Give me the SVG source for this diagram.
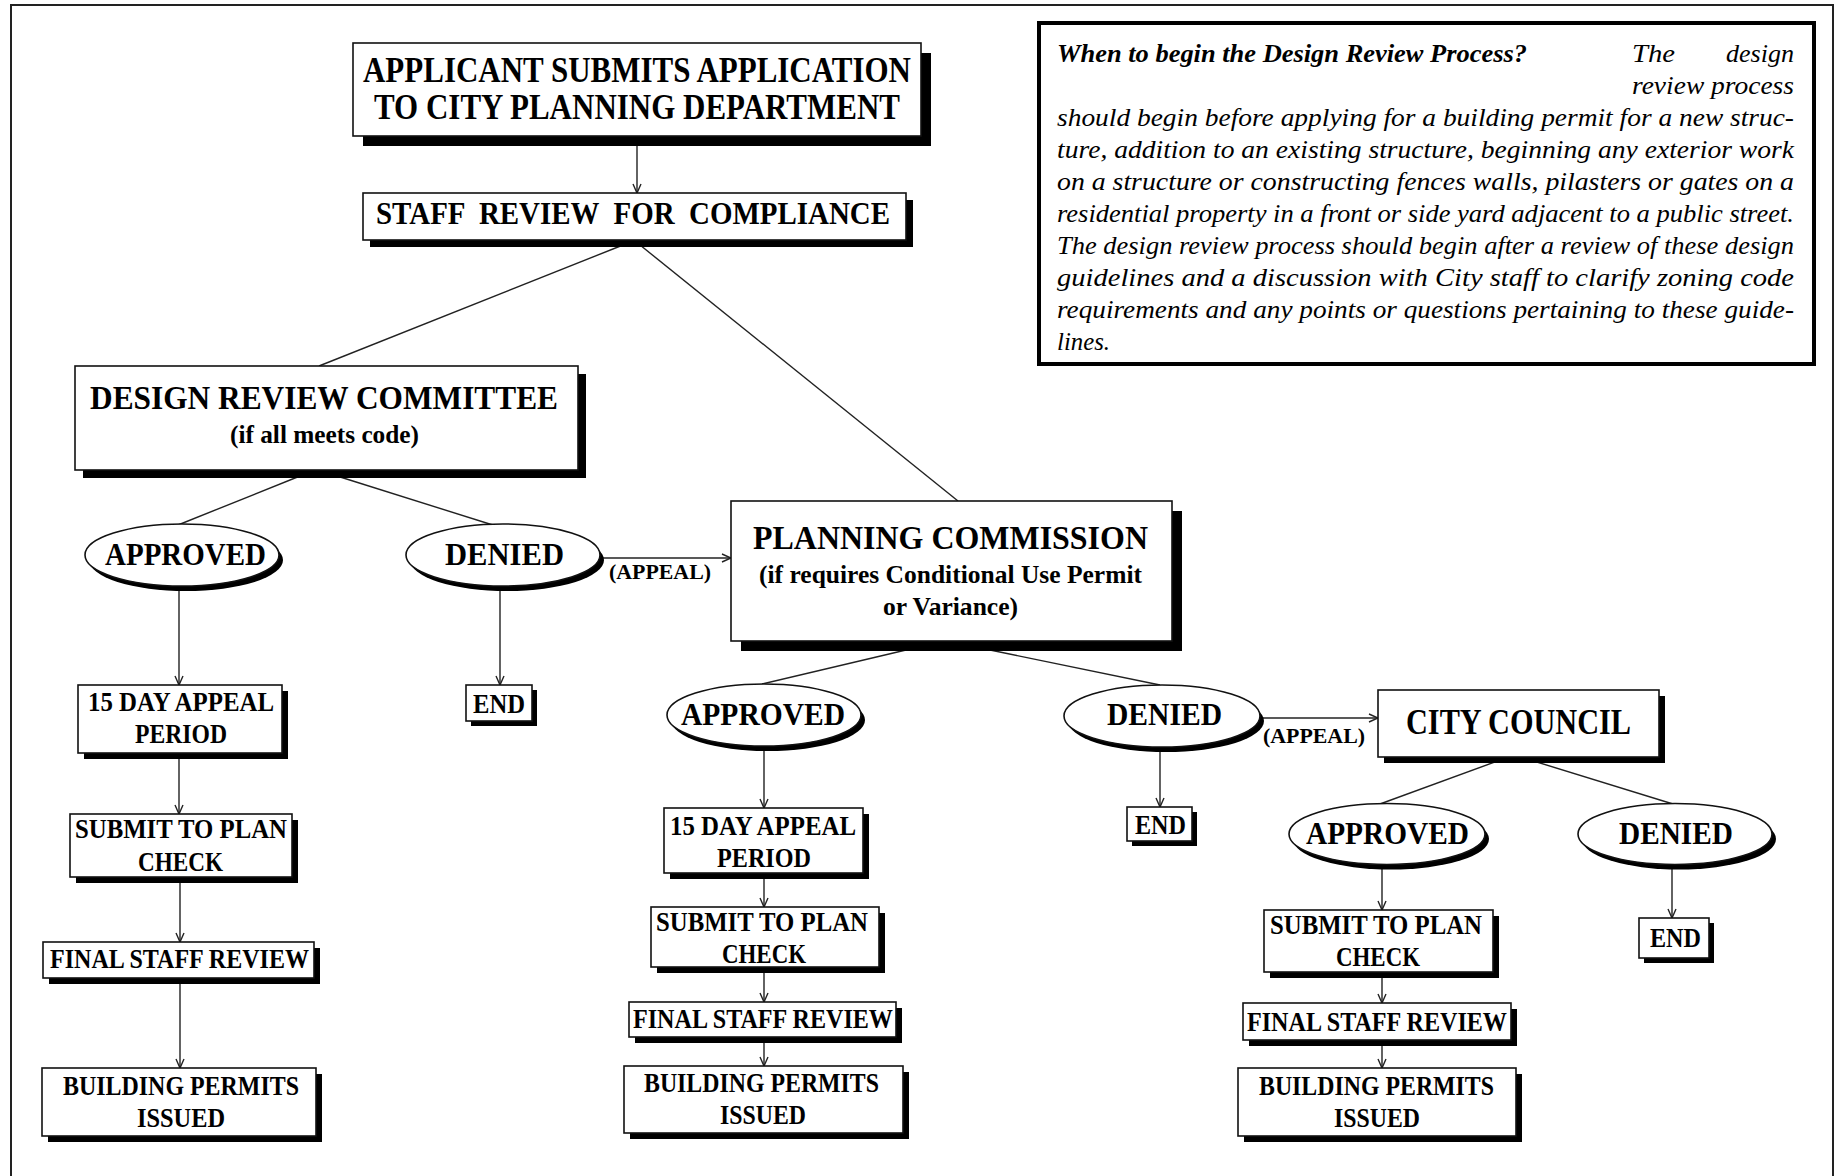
<svg xmlns="http://www.w3.org/2000/svg" width="1837" height="1176" viewBox="0 0 1837 1176">
<style>
.box{fill:#fff;stroke:#111;stroke-width:1.6}
.sh{fill:#000}
text{font-family:'Liberation Serif',Tinos,'Times New Roman',Times,serif}
.t{font-weight:bold;fill:#000}
.s{font-size:28px}
.it{font-style:italic;fill:#000;font-size:25px}
.ln{stroke:#222;stroke-width:1.4;fill:none}
.ar{stroke:#222;stroke-width:1.4;fill:none;marker-end:url(#ah)}
</style>
<defs>
<marker id="ah" viewBox="0 0 10 10" refX="10" refY="5" markerWidth="10" markerHeight="10" markerUnits="userSpaceOnUse" orient="auto">
<polyline points="1,1 10,5 1,9" fill="none" stroke="#222" stroke-width="1.4"/>
</marker>
</defs>
<rect width="1837" height="1176" fill="#fff"/>
<rect x="11" y="5" width="1822" height="1180" fill="none" stroke="#222" stroke-width="2"/>

<g id="info">
<rect x="1039" y="23" width="775" height="341" fill="#fff" stroke="#000" stroke-width="4"/>
<text class="it" x="1057" y="62" font-weight="bold" textLength="470" lengthAdjust="spacingAndGlyphs">When to begin the Design Review Process?</text>
<text class="it" x="1632" y="62" textLength="43" lengthAdjust="spacingAndGlyphs">The</text>
<text class="it" x="1726" y="62" textLength="68" lengthAdjust="spacingAndGlyphs">design</text>
<text class="it" x="1632" y="94" textLength="162" lengthAdjust="spacingAndGlyphs">review process</text>
<text class="it" x="1057" y="126" textLength="737" lengthAdjust="spacingAndGlyphs">should begin before applying for a building permit for a new struc-</text>
<text class="it" x="1057" y="158" textLength="737" lengthAdjust="spacingAndGlyphs">ture, addition to an existing structure, beginning any exterior work</text>
<text class="it" x="1057" y="190" textLength="737" lengthAdjust="spacingAndGlyphs">on a structure or constructing fences walls, pilasters or gates on a</text>
<text class="it" x="1057" y="222" textLength="737" lengthAdjust="spacingAndGlyphs">residential property in a front or side yard adjacent to a public street.</text>
<text class="it" x="1057" y="254" textLength="737" lengthAdjust="spacingAndGlyphs">The design review process should begin after a review of these design</text>
<text class="it" x="1057" y="286" textLength="737" lengthAdjust="spacingAndGlyphs">guidelines and a discussion with City staff to clarify zoning code</text>
<text class="it" x="1057" y="318" textLength="737" lengthAdjust="spacingAndGlyphs">requirements and any points or questions pertaining to these guide-</text>
<text class="it" x="1057" y="350" textLength="53" lengthAdjust="spacingAndGlyphs">lines.</text>
</g>

<g id="connectors">
<line class="ar" x1="637" y1="136" x2="637" y2="193"/>
<line class="ln" x1="623" y1="245" x2="319" y2="366"/>
<line class="ln" x1="640" y1="245" x2="958" y2="501"/>
<line class="ln" x1="300" y1="476" x2="178" y2="525"/>
<line class="ln" x1="337" y1="476" x2="496" y2="526"/>
<line class="ar" x1="600" y1="558" x2="731" y2="558"/>
<text class="t" x="609" y="579" font-size="21" textLength="102" lengthAdjust="spacingAndGlyphs">(APPEAL)</text>
<line class="ln" x1="906" y1="650" x2="762" y2="684"/>
<line class="ln" x1="990" y1="650" x2="1160" y2="685"/>
<line class="ar" x1="1259" y1="718" x2="1378" y2="718"/>
<text class="t" x="1263" y="743" font-size="21" textLength="102" lengthAdjust="spacingAndGlyphs">(APPEAL)</text>
<line class="ln" x1="1503" y1="759" x2="1380" y2="804"/>
<line class="ln" x1="1527" y1="759" x2="1673" y2="804"/>
<line class="ar" x1="179" y1="589" x2="179" y2="685"/>
<line class="ar" x1="179" y1="758" x2="179" y2="814"/>
<line class="ar" x1="180" y1="882" x2="180" y2="942"/>
<line class="ar" x1="180" y1="984" x2="180" y2="1068"/>
<line class="ar" x1="500" y1="589" x2="500" y2="685"/>
<line class="ar" x1="764" y1="750" x2="764" y2="808"/>
<line class="ar" x1="764" y1="878" x2="764" y2="907"/>
<line class="ar" x1="764" y1="972" x2="764" y2="1002"/>
<line class="ar" x1="764" y1="1042" x2="764" y2="1066"/>
<line class="ar" x1="1160" y1="750" x2="1160" y2="807"/>
<line class="ar" x1="1382" y1="869" x2="1382" y2="910"/>
<line class="ar" x1="1382" y1="977" x2="1382" y2="1003"/>
<line class="ar" x1="1382" y1="1045" x2="1382" y2="1068"/>
<line class="ar" x1="1672" y1="869" x2="1672" y2="918"/>
</g>

<g id="applicant">
<rect class="sh" x="363" y="53" width="568" height="93"/>
<rect class="box" x="353" y="43" width="568" height="93"/>
<text class="t" x="363" y="82" font-size="36" textLength="548" lengthAdjust="spacingAndGlyphs">APPLICANT SUBMITS APPLICATION</text>
<text class="t" x="374" y="119" font-size="36" textLength="526" lengthAdjust="spacingAndGlyphs">TO CITY PLANNING DEPARTMENT</text>
</g>
<g id="staff">
<rect class="sh" x="370" y="200" width="543" height="47"/>
<rect class="box" x="363" y="193" width="543" height="47"/>
<text class="t" x="376" y="224" font-size="32" textLength="514" lengthAdjust="spacingAndGlyphs" style="word-spacing:8px">STAFF REVIEW FOR COMPLIANCE</text>
</g>
<g id="drc">
<rect class="sh" x="83" y="374" width="503" height="104"/>
<rect class="box" x="75" y="366" width="503" height="104"/>
<text class="t" x="90" y="409" font-size="34" textLength="468" lengthAdjust="spacingAndGlyphs">DESIGN REVIEW COMMITTEE</text>
<text class="t" x="230" y="443" font-size="26" textLength="189" lengthAdjust="spacingAndGlyphs">(if all meets code)</text>
</g>
<g id="approved1">
<ellipse class="sh" cx="186" cy="560" rx="97" ry="31"/>
<ellipse class="box" cx="182" cy="555" rx="97" ry="31"/>
<text class="t" x="105" y="565" font-size="31" textLength="161" lengthAdjust="spacingAndGlyphs">APPROVED</text>
</g>
<g id="denied1">
<ellipse class="sh" cx="507" cy="560" rx="97" ry="31"/>
<ellipse class="box" cx="503" cy="555" rx="97" ry="31"/>
<text class="t" x="445" y="565" font-size="31" textLength="119" lengthAdjust="spacingAndGlyphs">DENIED</text>
</g>
<g id="pc">
<rect class="sh" x="741" y="511" width="441" height="140"/>
<rect class="box" x="731" y="501" width="441" height="140"/>
<text class="t" x="753" y="549" font-size="33" textLength="395" lengthAdjust="spacingAndGlyphs">PLANNING COMMISSION</text>
<text class="t" x="759" y="583" font-size="26" textLength="383" lengthAdjust="spacingAndGlyphs">(if requires Conditional Use Permit</text>
<text class="t" x="883" y="615" font-size="26" textLength="135" lengthAdjust="spacingAndGlyphs">or Variance)</text>
</g>
<g id="approved2">
<ellipse class="sh" cx="768" cy="720" rx="97" ry="31"/>
<ellipse class="box" cx="764" cy="715" rx="97" ry="31"/>
<text class="t" x="681" y="725" font-size="31" textLength="164" lengthAdjust="spacingAndGlyphs">APPROVED</text>
</g>
<g id="denied2">
<ellipse class="sh" cx="1166" cy="721" rx="98" ry="31"/>
<ellipse class="box" cx="1162" cy="716" rx="98" ry="31"/>
<text class="t" x="1107" y="725" font-size="31" textLength="115" lengthAdjust="spacingAndGlyphs">DENIED</text>
</g>
<g id="council">
<rect class="sh" x="1384" y="696" width="281" height="67"/>
<rect class="box" x="1378" y="690" width="281" height="67"/>
<text class="t" x="1406" y="734" font-size="36" textLength="225" lengthAdjust="spacingAndGlyphs">CITY COUNCIL</text>
</g>
<g id="approved3">
<ellipse class="sh" cx="1391" cy="839" rx="98" ry="30.5"/>
<ellipse class="box" cx="1387" cy="834" rx="98" ry="30.5"/>
<text class="t" x="1306" y="844" font-size="31" textLength="163" lengthAdjust="spacingAndGlyphs">APPROVED</text>
</g>
<g id="denied3">
<ellipse class="sh" cx="1679" cy="839" rx="97" ry="30.5"/>
<ellipse class="box" cx="1675" cy="834" rx="97" ry="30.5"/>
<text class="t" x="1619" y="844" font-size="31" textLength="114" lengthAdjust="spacingAndGlyphs">DENIED</text>
</g>

<g id="appeal1">
<rect class="sh" x="84" y="691" width="204" height="68"/>
<rect class="box" x="78" y="685" width="204" height="68"/>
<text class="t s" x="88" y="711" textLength="186" lengthAdjust="spacingAndGlyphs">15 DAY APPEAL</text>
<text class="t s" x="135" y="743" textLength="92" lengthAdjust="spacingAndGlyphs">PERIOD</text>
</g>
<g id="submit1">
<rect class="sh" x="76" y="820" width="222" height="63"/>
<rect class="box" x="70" y="814" width="222" height="63"/>
<text class="t s" x="75" y="838" textLength="212" lengthAdjust="spacingAndGlyphs">SUBMIT TO PLAN</text>
<text class="t s" x="138" y="871" textLength="85" lengthAdjust="spacingAndGlyphs">CHECK</text>
</g>
<g id="final1">
<rect class="sh" x="49" y="948" width="271" height="36"/>
<rect class="box" x="43" y="942" width="271" height="36"/>
<text class="t s" x="50" y="968" textLength="259" lengthAdjust="spacingAndGlyphs">FINAL STAFF REVIEW</text>
</g>
<g id="permits1">
<rect class="sh" x="48" y="1074" width="274" height="68"/>
<rect class="box" x="42" y="1068" width="274" height="68"/>
<text class="t s" x="63" y="1095" textLength="236" lengthAdjust="spacingAndGlyphs">BUILDING PERMITS</text>
<text class="t s" x="137" y="1127" textLength="88" lengthAdjust="spacingAndGlyphs">ISSUED</text>
</g>
<g id="end1">
<rect class="sh" x="471" y="690" width="66" height="36"/>
<rect class="box" x="466" y="685" width="66" height="36"/>
<text class="t" x="473" y="713" font-size="27" textLength="52" lengthAdjust="spacingAndGlyphs">END</text>
</g>

<g id="appeal2">
<rect class="sh" x="670" y="814" width="199" height="65"/>
<rect class="box" x="664" y="808" width="199" height="65"/>
<text class="t s" x="670" y="835" textLength="186" lengthAdjust="spacingAndGlyphs">15 DAY APPEAL</text>
<text class="t s" x="717" y="867" textLength="94" lengthAdjust="spacingAndGlyphs">PERIOD</text>
</g>
<g id="submit2">
<rect class="sh" x="657" y="913" width="228" height="60"/>
<rect class="box" x="651" y="907" width="228" height="60"/>
<text class="t s" x="656" y="931" textLength="212" lengthAdjust="spacingAndGlyphs">SUBMIT TO PLAN</text>
<text class="t s" x="722" y="963" textLength="84" lengthAdjust="spacingAndGlyphs">CHECK</text>
</g>
<g id="final2">
<rect class="sh" x="635" y="1008" width="267" height="35"/>
<rect class="box" x="629" y="1002" width="267" height="35"/>
<text class="t s" x="633" y="1028" textLength="260" lengthAdjust="spacingAndGlyphs">FINAL STAFF REVIEW</text>
</g>
<g id="permits2">
<rect class="sh" x="630" y="1072" width="279" height="67"/>
<rect class="box" x="624" y="1066" width="279" height="67"/>
<text class="t s" x="644" y="1092" textLength="235" lengthAdjust="spacingAndGlyphs">BUILDING PERMITS</text>
<text class="t s" x="720" y="1124" textLength="86" lengthAdjust="spacingAndGlyphs">ISSUED</text>
</g>
<g id="end2">
<rect class="sh" x="1132" y="812" width="65" height="34"/>
<rect class="box" x="1127" y="807" width="65" height="34"/>
<text class="t" x="1135" y="834" font-size="27" textLength="51" lengthAdjust="spacingAndGlyphs">END</text>
</g>

<g id="submit3">
<rect class="sh" x="1270" y="916" width="229" height="62"/>
<rect class="box" x="1264" y="910" width="229" height="62"/>
<text class="t s" x="1270" y="934" textLength="212" lengthAdjust="spacingAndGlyphs">SUBMIT TO PLAN</text>
<text class="t s" x="1336" y="966" textLength="84" lengthAdjust="spacingAndGlyphs">CHECK</text>
</g>
<g id="final3">
<rect class="sh" x="1249" y="1009" width="268" height="37"/>
<rect class="box" x="1243" y="1003" width="268" height="37"/>
<text class="t s" x="1247" y="1031" textLength="260" lengthAdjust="spacingAndGlyphs">FINAL STAFF REVIEW</text>
</g>
<g id="permits3">
<rect class="sh" x="1244" y="1074" width="278" height="68"/>
<rect class="box" x="1238" y="1068" width="278" height="68"/>
<text class="t s" x="1259" y="1095" textLength="235" lengthAdjust="spacingAndGlyphs">BUILDING PERMITS</text>
<text class="t s" x="1334" y="1127" textLength="86" lengthAdjust="spacingAndGlyphs">ISSUED</text>
</g>
<g id="end3">
<rect class="sh" x="1644" y="923" width="70" height="40"/>
<rect class="box" x="1639" y="918" width="70" height="40"/>
<text class="t" x="1650" y="947" font-size="27" textLength="51" lengthAdjust="spacingAndGlyphs">END</text>
</g>
</svg>
